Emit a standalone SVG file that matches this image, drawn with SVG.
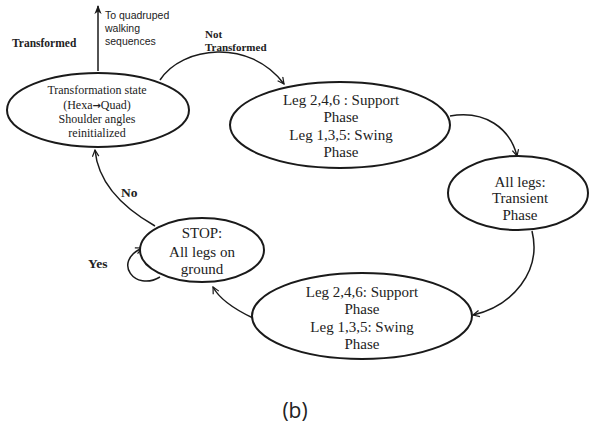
<svg xmlns="http://www.w3.org/2000/svg" width="589" height="426" viewBox="0 0 589 426">
<style>
.node ellipse{fill:#fff;stroke:#1a1a1a;stroke-width:2}
.nt{font-family:"Liberation Serif",serif;font-size:15px;fill:#222;text-anchor:middle}
.nt12{font-family:"Liberation Serif",serif;font-size:12px;fill:#222;text-anchor:middle}
.lbl{font-family:"Liberation Serif",serif;font-weight:bold;fill:#222}
.side{font-family:"Liberation Sans",sans-serif;font-size:10.5px;fill:#222}
.conn path{fill:none;stroke:#1a1a1a;stroke-width:1.5}
</style>
<defs>
<marker id="v" viewBox="0 0 10 10" refX="9" refY="5" markerWidth="8" markerHeight="8" markerUnits="userSpaceOnUse" orient="auto">
<path d="M1,1 L9,5 L1,9" fill="none" stroke="#1a1a1a" stroke-width="1.5"/>
</marker>
<marker id="f" viewBox="0 0 10 10" refX="9" refY="5" markerWidth="9" markerHeight="9" markerUnits="userSpaceOnUse" orient="auto">
<path d="M0,1 L10,5 L0,9 L3,5 Z" fill="#1a1a1a"/>
</marker>
</defs>
<g id="connectors" class="conn">
<path d="M98,71 L98,6" marker-end="url(#f)"/>
<path d="M160,80 C182,46 250,38 284,84" marker-end="url(#v)"/>
<path d="M450,116 C485,110 510,128 517,156" marker-end="url(#v)"/>
<path d="M532,231 C542,272 512,306 473,315" marker-end="url(#v)"/>
<path d="M253,318 C236,310 220,300 213,287" marker-end="url(#v)"/>
<path d="M155,226 C120,206 98,182 95,150" marker-end="url(#v)"/>
<path d="M160,277 C135,292 112,262 142,248" marker-end="url(#v)"/>
</g>
<g id="transformation">
<g class="node"><ellipse cx="98" cy="110" rx="91" ry="37"/></g>
<text class="nt12" x="97" y="94">Transformation state</text>
<text class="nt12" x="97" y="109">(Hexa<tspan font-family="'DejaVu Sans',sans-serif" font-weight="bold" font-size="10">→</tspan>Quad)</text>
<text class="nt12" x="97" y="123">Shoulder angles</text>
<text class="nt12" x="97" y="137">reinitialized</text>
</g>
<g id="support1">
<g class="node"><ellipse cx="340" cy="125" rx="110" ry="43"/></g>
<text class="nt" x="341" y="105">Leg 2,4,6 : Support</text>
<text class="nt" x="341" y="122">Phase</text>
<text class="nt" x="341" y="140">Leg 1,3,5: Swing</text>
<text class="nt" x="341" y="157">Phase</text>
</g>
<g id="transient">
<g class="node"><ellipse cx="518" cy="193" rx="70" ry="37"/></g>
<text class="nt" x="520" y="187">All legs:</text>
<text class="nt" x="520" y="203">Transient</text>
<text class="nt" x="520" y="220">Phase</text>
</g>
<g id="support2">
<g class="node"><ellipse cx="362" cy="316" rx="110" ry="43"/></g>
<text class="nt" x="362" y="297">Leg 2,4,6: Support</text>
<text class="nt" x="362" y="314">Phase</text>
<text class="nt" x="362" y="332">Leg 1,3,5: Swing</text>
<text class="nt" x="362" y="349">Phase</text>
</g>
<g id="stop">
<g class="node"><ellipse cx="202" cy="250" rx="62" ry="32"/></g>
<text class="nt" x="202" y="238">STOP:</text>
<text class="nt" x="202" y="257">All legs on</text>
<text class="nt" x="202" y="274">ground</text>
</g>
<g id="labels">
<text class="lbl" x="12" y="47" font-size="11.5">Transformed</text>
<text class="side" x="105" y="19">To quadruped</text>
<text class="side" x="105" y="32">walking</text>
<text class="side" x="105" y="45">sequences</text>
<text class="lbl" x="205" y="38" font-size="11">Not</text>
<text class="lbl" x="205" y="51" font-size="11">Transformed</text>
<text class="lbl" x="121" y="197" font-size="13.5">No</text>
<text class="lbl" x="88" y="268" font-size="13.5">Yes</text>
<text x="295" y="418" font-family="'Open Sans','Liberation Sans',sans-serif" font-size="21" fill="#222" text-anchor="middle">(b)</text>
</g>
</svg>
